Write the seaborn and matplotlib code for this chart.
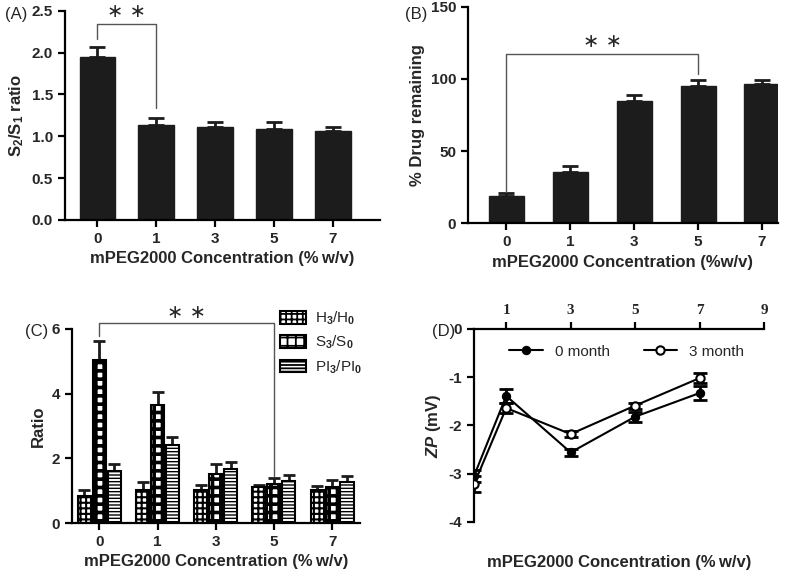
import matplotlib.pyplot as plt
import matplotlib.patches as mpatches
import seaborn as sns
import pandas as pd
import numpy as np

# data
conc = ['0', '1', '3', '5', '7']
s2s1_mean = [1.95, 1.13, 1.11, 1.09, 1.065]
s2s1_err = [0.12, 0.09, 0.06, 0.08, 0.05]

drug_mean = [18.6, 35.3, 85.0, 95.4, 96.4]
drug_err = [2.5, 4.4, 3.9, 3.7, 3.0]

ratio_names = ['H$_3$/H$_0$', 'S$_3$/S$_0$', 'PI$_3$/PI$_0$']
h_mean = [0.83, 1.01, 1.01, 1.10, 1.01]
h_err = [0.18, 0.26, 0.16, 0.09, 0.14]
s_mean = [5.03, 3.65, 1.53, 1.22, 1.12]
s_err = [0.59, 0.41, 0.29, 0.18, 0.20]
pi_mean = [1.60, 2.41, 1.66, 1.30, 1.27]
pi_err = [0.22, 0.26, 0.23, 0.18, 0.19]

zp_x = [0, 1, 3, 5, 7]
zp0_mean = [-3.05, -1.39, -2.56, -1.82, -1.33]
zp0_err = [0.12, 0.15, 0.07, 0.10, 0.15]
zp3_mean = [-3.22, -1.64, -2.18, -1.59, -1.02]
zp3_err = [0.17, 0.10, 0.06, 0.06, 0.10]

sns.set_style('ticks')
plt.rcParams['font.family'] = ['Liberation Sans', 'DejaVu Sans']
plt.rcParams['font.weight'] = 'bold'
plt.rcParams['axes.labelweight'] = 'bold'
plt.rcParams['mathtext.fontset'] = 'custom'
plt.rcParams['mathtext.rm'] = 'Liberation Sans'
plt.rcParams['mathtext.it'] = 'Liberation Sans:italic'
plt.rcParams['mathtext.bf'] = 'Liberation Sans:bold'
plt.rcParams['mathtext.bfit'] = 'Liberation Sans:italic:bold'
plt.rcParams['axes.unicode_minus'] = False
plt.rcParams['hatch.linewidth'] = 1.3
plt.rcParams['hatch.color'] = 'black'

BAR = '#1c1c1c'
XLAB = 'mPEG2000 Concentration (%\u2009w/v)'

fig = plt.figure(figsize=(8, 5.71), dpi=100)
axA = fig.add_axes([0.081, 0.615, 0.394, 0.366])
axB = fig.add_axes([0.585, 0.609, 0.3875, 0.379])
axC = fig.add_axes([0.09, 0.084, 0.36, 0.34])
axD = fig.add_axes([0.5925, 0.086, 0.3625, 0.338])


def style(ax):
    for s in ['top', 'right']:
        ax.spines[s].set_visible(False)
    for s in ['left', 'bottom']:
        ax.spines[s].set_linewidth(1.6)
        ax.spines[s].set_color('black')
    ax.tick_params(width=1.6, length=5, labelsize=11, color='black')


def upper_err(ax, means, errs, cap=6):
    bars = sorted(ax.patches, key=lambda p: p.get_x())
    xs = [p.get_x() + p.get_width() / 2 for p in bars]
    ax.errorbar(xs, means, yerr=[np.zeros(len(errs)), errs], fmt='none',
                ecolor=BAR, elinewidth=2, capsize=cap, capthick=2, zorder=1)


def bracket(ax, x0, x1, y0, y1, ytop, ystar):
    ax.plot([x0, x0, x1, x1], [y0, ytop, ytop, y1], color='#555555', lw=1,
            clip_on=False)
    ax.text((x0 + x1) / 2, ystar, '\u2217 \u2217', ha='center', va='center',
            fontsize=14, fontweight='normal', family='DejaVu Sans')


def set_hatch(p, hatch, lw):
    p.set_hatch(hatch)
    if hasattr(p, 'set_hatch_linewidth'):
        p.set_hatch_linewidth(lw)


# (A)
dfA = pd.DataFrame({'conc': conc, 'val': s2s1_mean})
sns.barplot(data=dfA, x='conc', y='val', color=BAR, saturation=1, width=0.6,
            errorbar=None, edgecolor=BAR, ax=axA, zorder=2)
upper_err(axA, s2s1_mean, s2s1_err)
style(axA)
axA.set_xlim(-0.55, 4.8)
axA.set_ylim(0, 2.5)
axA.set_yticks([0, 0.5, 1.0, 1.5, 2.0, 2.5])
axA.set_yticklabels(['0.0', '0.5', '1.0', '1.5', '2.0', '2.5'])
axA.set_xlabel(XLAB, fontsize=12)
axA.set_ylabel(r'$\mathbf{S_2/S_1}$ ratio', fontsize=12)
bracket(axA, 0, 1, 2.16, 1.34, 2.34, 2.49)

# (B)
dfB = pd.DataFrame({'conc': conc, 'val': drug_mean})
sns.barplot(data=dfB, x='conc', y='val', color=BAR, saturation=1, width=0.55,
            errorbar=None, edgecolor=BAR, ax=axB, zorder=2)
upper_err(axB, drug_mean, drug_err)
style(axB)
axB.set_xlim(-0.6, 4.25)
axB.set_ylim(0, 150)
axB.set_yticks([0, 50, 100, 150])
axB.set_xlabel('mPEG2000 Concentration (%w/v)', fontsize=12)
axB.set_ylabel('% Drug remaining', fontsize=12)
bracket(axB, 0, 3, 21.5, 103.5, 117.5, 126)

# (C)
dfC = pd.DataFrame({
    'conc': conc * 3,
    'ratio': [ratio_names[0]] * 5 + [ratio_names[1]] * 5 + [ratio_names[2]] * 5,
    'val': h_mean + s_mean + pi_mean,
})
sns.barplot(data=dfC, x='conc', y='val', hue='ratio', hue_order=ratio_names,
            palette=['white'] * 3, saturation=1, width=0.77, gap=0.12,
            errorbar=None, edgecolor='black', linewidth=1.5, legend=False,
            ax=axC, zorder=2)
hatches = ['+++', '++', '-----']
hatch_lw = [1.5, 2.6, 1.0]
barsC = sorted(axC.patches, key=lambda p: p.get_x())
for i, p in enumerate(barsC):
    set_hatch(p, hatches[i % 3], hatch_lw[i % 3])
c_means, c_errs = [], []
for k in range(5):
    c_means += [h_mean[k], s_mean[k], pi_mean[k]]
    c_errs += [h_err[k], s_err[k], pi_err[k]]
upper_err(axC, c_means, c_errs, cap=4)
style(axC)
axC.set_xlim(-0.47, 4.48)
axC.set_ylim(0, 6)
axC.set_yticks([0, 2, 4, 6])
axC.set_xlabel(XLAB, fontsize=12)
axC.set_ylabel('Ratio', fontsize=12)
bracket(axC, 0, 3, 5.77, 1.45, 6.19, 6.5)
handles = []
for h, lw, n in zip(hatches, hatch_lw, ratio_names):
    hp = mpatches.Patch(facecolor='white', edgecolor='black', lw=1.5, label=n)
    set_hatch(hp, h, lw)
    handles.append(hp)
axC.legend(handles=handles, loc='upper left', bbox_to_anchor=(0.7, 1.13),
           frameon=False, handlelength=1.7, handleheight=0.9,
           labelspacing=0.45, handletextpad=0.6, borderaxespad=0,
           prop={'weight': 'normal', 'size': 11})

# (D)
sns.lineplot(x=zp_x, y=zp0_mean, color='black', lw=1.5, marker='o', ms=6,
             mfc='black', mec='black', label='0 month', ax=axD, zorder=3)
sns.lineplot(x=zp_x, y=zp3_mean, color='black', lw=1.5, marker='o', ms=6,
             mfc='white', mec='black', mew=1.5, label='3 month', ax=axD, zorder=4)
axD.errorbar(zp_x, zp0_mean, yerr=zp0_err, fmt='none', ecolor='black',
             elinewidth=2, capsize=5, capthick=2, zorder=2)
axD.errorbar(zp_x, zp3_mean, yerr=zp3_err, fmt='none', ecolor='black',
             elinewidth=2, capsize=5, capthick=2, zorder=2)
axD.spines['bottom'].set_visible(False)
axD.spines['right'].set_visible(False)
for s in ['left', 'top']:
    axD.spines[s].set_linewidth(1.6)
    axD.spines[s].set_color('black')
axD.xaxis.tick_top()
axD.xaxis.set_label_position('bottom')
axD.tick_params(width=1.6, length=5, labelsize=11, color='black')
axD.set_xlim(0, 9)
axD.set_ylim(-4, 0)
axD.set_xticks([1, 3, 5, 7, 9])
for lab in axD.get_xticklabels():
    lab.set_family('Liberation Serif')
    lab.set_fontsize(11)
axD.set_yticks([0, -1, -2, -3, -4])
axD.set_xlabel(XLAB, fontsize=12, labelpad=24)
axD.set_ylabel(r'$\mathbfit{ZP}$ (mV)', fontsize=12)
axD.legend(loc='upper left', bbox_to_anchor=(0.1, 0.95), ncol=2, frameon=False,
           handlelength=2.2, columnspacing=2.2, borderaxespad=0,
           prop={'weight': 'normal', 'size': 11})

# panel letters
fig.text(0.006, 0.974, '(A)', fontsize=12, fontweight='normal', va='center')
fig.text(0.506, 0.974, '(B)', fontsize=12, fontweight='normal', va='center')
fig.text(0.031, 0.42, '(C)', fontsize=12, fontweight='normal', va='center')
fig.text(0.569, 0.42, '(D)', fontsize=12, fontweight='normal', va='center',
         ha='right')

fig.savefig('out.png', dpi=100)
